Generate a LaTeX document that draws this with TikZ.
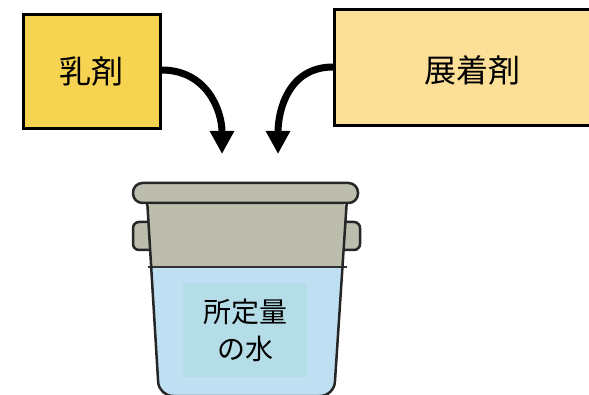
\documentclass[tikz,border=0pt]{standalone}
\usepackage{fontspec}
\newfontfamily\jpfont{Noto Sans CJK JP}
\usetikzlibrary{arrows.meta}
\definecolor{emulsion}{RGB}{247,211,82}
\definecolor{spreader}{RGB}{253,224,152}
\definecolor{pailgray}{RGB}{188,189,172}
\definecolor{water}{RGB}{191,224,242}
\definecolor{labelbg}{RGB}{181,221,232}
\tikzset{
  agent/.style={draw=black, line width=3pt, minimum height=114pt, font=\jpfont\fontsize{32}{36}\selectfont},
  pour/.style={line width=7pt, -{Triangle[length=23pt,width=23pt]}},
  pail/.style={draw=black!85, line width=2.5pt, line join=round},
}
\begin{document}
\begin{tikzpicture}[x=1pt,y=-1pt]
\useasboundingbox (0,0) rectangle (589,395);

% ingredient boxes
\node[agent, fill=emulsion, minimum width=137pt] (b1) at (91.5,72) {乳剤};
\node[agent, fill=spreader, minimum width=300pt, minimum height=116pt, anchor=west] (b2) at (333,68) {};
\node[font=\jpfont\fontsize{32}{36}\selectfont] (t2) at (472,70) {展着剤};

% arrows pouring into the pail
\coordinate (tip1) at (222,154);
\coordinate (tip2) at (278,154);
\draw[pour] (b1.east |- 0,70) to[out=0,in=90,looseness=1.1] (tip1);
\draw[pour] (b2.west |- 0,67) to[out=180,in=90,looseness=1.1] (tip2);

% pail handles
\draw[pail, fill=pailgray, rounded corners=6pt] (133,222) rectangle (160,250);
\draw[pail, fill=pailgray, rounded corners=6pt] (334,222) rectangle (360,250);
% pail body: water and empty upper part
\begin{scope}
  \clip[rounded corners=14pt] (147,198) -- (159,396) -- (334,396) -- (347,198) -- cycle;
  \fill[water] (120,267) rectangle (380,410);
  \fill[pailgray] (120,195) rectangle (380,267);
\end{scope}
\draw[black!80, line width=1.2pt] (147.5,267) -- (346.5,267);
\draw[pail, rounded corners=14pt] (147,198) -- (159,396) -- (334,396) -- (347,198);
% rim
\draw[pail, fill=pailgray, rounded corners=9.5pt] (133,183) rectangle (358,203);

% label panel inside the pail
\node[fill=labelbg, minimum width=124pt, minimum height=94pt, align=center,
      font=\jpfont\fontsize{28}{37}\selectfont] (w) at (245,330) {所定量\\の水};
\end{tikzpicture}
\end{document}
